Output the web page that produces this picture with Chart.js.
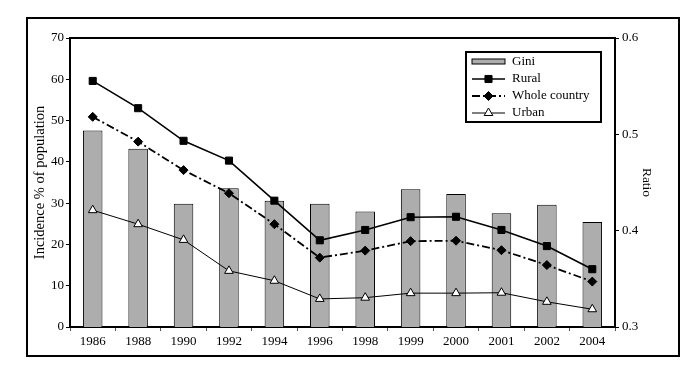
<!DOCTYPE html>
<html>
<head>
<meta charset="utf-8">
<script src="https://cdn.jsdelivr.net/npm/chart.js@4"></script>
<style>
  html, body { margin: 0; padding: 0; background: #fff; }
  #wrap { width: 700px; height: 368px; }
</style>
</head>
<body>
<div id="wrap"><canvas id="povertyChart" width="700" height="368"></canvas></div>
<script>
// data
const years = ['1986', '1988', '1990', '1992', '1994', '1996', '1998', '1999', '2000', '2001', '2002', '2004'];
const gini = [0.504, 0.485, 0.428, 0.444, 0.431, 0.428, 0.420, 0.443, 0.438, 0.418, 0.427, 0.409];
const rural = [59.6, 53.0, 45.1, 40.3, 30.6, 21.0, 23.5, 26.6, 26.7, 23.5, 19.6, 14.0];
const wholeCountry = [50.9, 44.9, 38.0, 32.4, 24.9, 16.8, 18.5, 20.8, 20.9, 18.6, 15.0, 11.0];
const urban = [28.3, 24.9, 21.1, 13.6, 11.2, 6.8, 7.1, 8.2, 8.2, 8.3, 6.1, 4.3];
const leftTicks = [0, 10, 20, 30, 40, 50, 60, 70];
const rightTicks = [0.3, 0.4, 0.5, 0.6];

const serif = 'Liberation Serif';
const dashDot = [8, 3, 2, 3];

// frame around the figure, top line of the plot and the boxed legend
const framePlugin = {
  id: 'framePlugin',
  afterDraw: function (chart) {
    const ctx = chart.ctx;
    const area = chart.chartArea;
    ctx.save();
    ctx.strokeStyle = '#000';
    ctx.lineWidth = 2;
    ctx.strokeRect(27, 18, 652, 338);

    ctx.beginPath();
    ctx.moveTo(area.left, area.top);
    ctx.lineTo(area.right, area.top);
    ctx.stroke();

    // legend
    const bx = area.right - 149, by = area.top + 14, bw = 135, bh = 70;
    ctx.fillStyle = '#fff';
    ctx.fillRect(bx, by, bw, bh);
    ctx.strokeRect(bx, by, bw, bh);

    const sx = bx + 6, ex = bx + 39, mx = (sx + ex) / 2;
    const rows = [by + 10, by + 27, by + 44, by + 61];
    const ds = chart.data.datasets;

    // Gini swatch
    ctx.fillStyle = ds[0].backgroundColor;
    ctx.fillRect(sx, rows[0] - 3, ex - sx, 5);
    ctx.lineWidth = 1;
    ctx.strokeRect(sx, rows[0] - 3, ex - sx, 5);

    for (let i = 1; i < 4; i++) {
      const d = ds[i];
      const y = rows[i];
      ctx.save();
      ctx.strokeStyle = d.borderColor;
      ctx.lineWidth = d.borderWidth;
      ctx.setLineDash(d.borderDash || []);
      ctx.beginPath();
      ctx.moveTo(sx, y);
      ctx.lineTo(ex, y);
      ctx.stroke();
      ctx.restore();
      ctx.save();
      ctx.fillStyle = d.pointBackgroundColor;
      ctx.strokeStyle = d.pointBorderColor;
      ctx.lineWidth = d.pointBorderWidth;
      Chart.helpers.drawPoint(ctx, { pointStyle: d.pointStyle, radius: d.pointRadius, borderWidth: d.pointBorderWidth }, mx, y);
      ctx.restore();
    }

    ctx.fillStyle = '#000';
    ctx.font = '13px "' + serif + '"';
    ctx.textBaseline = 'middle';
    ctx.textAlign = 'left';
    for (let i = 0; i < 4; i++) {
      ctx.fillText(ds[i].label, bx + 46, rows[i]);
    }
    ctx.restore();
  }
};

const ctx = document.getElementById('povertyChart').getContext('2d');
const povertyChart = new Chart(ctx, {
  type: 'bar',
  data: {
    labels: years,
    datasets: [{
      type: 'bar',
      label: 'Gini',
      data: gini,
      yAxisID: 'y1',
      backgroundColor: '#adadad',
      borderColor: '#000',
      borderWidth: 1,
      barPercentage: 0.43,
      categoryPercentage: 1,
      order: 3
    }, {
      type: 'line',
      label: 'Rural',
      data: rural,
      yAxisID: 'y',
      borderColor: '#000',
      borderWidth: 1.6,
      pointStyle: 'rect',
      pointRadius: 5,
      pointBackgroundColor: '#000',
      pointBorderColor: '#000',
      pointBorderWidth: 1,
      order: 1
    }, {
      type: 'line',
      label: 'Whole country',
      data: wholeCountry,
      yAxisID: 'y',
      borderColor: '#000',
      borderWidth: 1.8,
      borderDash: dashDot,
      pointStyle: 'rectRot',
      pointRadius: 4.5,
      pointBackgroundColor: '#000',
      pointBorderColor: '#000',
      pointBorderWidth: 1,
      order: 1
    }, {
      type: 'line',
      label: 'Urban',
      data: urban,
      yAxisID: 'y',
      borderColor: '#000',
      borderWidth: 1,
      pointStyle: 'triangle',
      pointRadius: 5,
      pointBackgroundColor: '#fff',
      pointBorderColor: '#000',
      pointBorderWidth: 1,
      order: 1
    }]
  },
  options: {
    responsive: false,
    animation: false,
    layout: { padding: { left: 28, right: 20, top: 38, bottom: 0 } },
    plugins: {
      legend: { display: false },
      tooltip: { enabled: false }
    },
    scales: {
      x: {
        grid: { offset: true, drawOnChartArea: false, tickLength: 4, color: '#555' },
        border: { display: true, color: '#000', width: 2 },
        ticks: { color: '#000', padding: 3, font: { family: serif, size: 13 }, maxRotation: 0 },
        afterFit: function (scale) { scale.height = 41; }
      },
      y: {
        position: 'left',
        min: 0,
        max: 70,
        afterBuildTicks: function (scale) { scale.ticks = leftTicks.map(function (v) { return { value: v }; }); },
        grid: { drawOnChartArea: false, tickLength: 4, color: '#000' },
        border: { display: true, color: '#000', width: 2 },
        ticks: { color: '#000', padding: 2, font: { family: serif, size: 13 } },
        title: { display: true, text: 'Incidence % of population', color: '#000', padding: { top: 3, bottom: 0 }, font: { family: serif, size: 14.5 } },
        afterFit: function (scale) { scale.width = 42; }
      },
      y1: {
        position: 'right',
        min: 0.3,
        max: 0.6,
        afterBuildTicks: function (scale) { scale.ticks = rightTicks.map(function (v) { return { value: v }; }); },
        grid: { drawOnChartArea: false, tickLength: 4, color: '#000' },
        border: { display: true, color: '#000', width: 2 },
        ticks: { color: '#000', padding: 3, font: { family: serif, size: 13 }, callback: function (v) { return v.toFixed(1); } },
        title: { display: true, text: 'Ratio', color: '#000', padding: { top: 25, bottom: 0 }, font: { family: serif, size: 13.5 } },
        afterFit: function (scale) { scale.width = 65; }
      }
    }
  },
  plugins: [framePlugin]
});
</script>
</body>
</html>
